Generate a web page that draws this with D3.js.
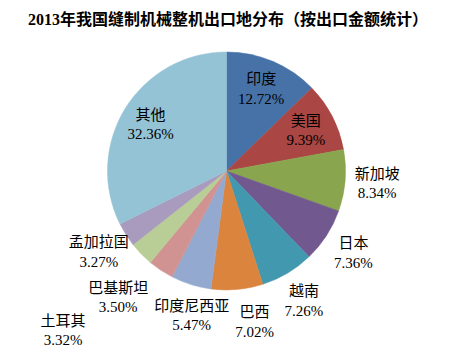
<!DOCTYPE html>
<html>
<head>
<meta charset="utf-8">
<script src="https://cdn.jsdelivr.net/npm/d3@7/dist/d3.min.js"></script>
<style>
  html, body { margin: 0; padding: 0; background: #fff; }
  svg { display: block; }
  text { font-family: "Liberation Serif", "Times New Roman", "Noto Sans CJK SC", serif; }
</style>
</head>
<body>
<svg id="chart" width="453" height="358"></svg>
<script>
const title = "2013年我国缝制机械整机出口地分布（按出口金额统计）";
const categories = ["印度", "美国", "新加坡", "日本", "越南", "巴西", "印度尼西亚", "巴基斯坦", "土耳其", "孟加拉国", "其他"];
const values = [12.72, 9.39, 8.34, 7.36, 7.26, 7.02, 5.47, 3.50, 3.32, 3.27, 32.36];
const colors = ["#4672A8", "#AA4643", "#89A54E", "#71588F", "#4198AF", "#DB843D", "#93A9CF", "#D19392", "#B9CD96", "#A99BBD", "#93C3D5"];

const W = 453, H = 358;
const cx0 = 226.5, cy0 = 171, R = 119;

const svg = d3.select("#chart");
svg.append("rect").attr("width", W).attr("height", H).attr("fill", "#fff");

svg.append("text")
  .attr("x", 228).attr("y", 25)
  .attr("text-anchor", "middle")
  .attr("font-size", 16).attr("font-weight", "bold")
  .attr("fill", "#000")
  .text(title);

const data = categories.map((c, i) => ({ name: c, value: values[i], color: colors[i] }));
const total = d3.sum(values);
const pie = d3.pie().sort(null).value(d => d.value);
const arcs = pie(data);
const arc = d3.arc().innerRadius(0).outerRadius(R);

const g = svg.append("g").attr("transform", `translate(${cx0},${cy0})`);
g.selectAll("path").data(arcs).join("path")
  .attr("d", arc)
  .attr("fill", d => d.data.color)
  .attr("stroke", d => d.data.color)
  .attr("stroke-width", 0.5);

// labels
const lg = svg.append("g");
const labels = arcs.map(a => {
  const mid = (a.startAngle + a.endAngle) / 2;
  const inside = a.data.value / total > 0.09;
  const r = inside ? R * 0.75 : R * 1.27;
  const t = lg.append("text").attr("text-anchor", "middle").attr("font-size", 15).attr("fill", "#000");
  const t1 = t.append("tspan").text(a.data.name);
  const t2 = t.append("tspan").text(a.data.value.toFixed(2) + "%");
  const w = Math.max(t1.node().getComputedTextLength(), t2.node().getComputedTextLength());
  return { a, mid, inside, r, x: cx0 + r * Math.sin(mid), y: cy0 - r * Math.cos(mid), w, h: 40, t, t1, t2 };
});

function overlap(p, q) {
  return Math.abs(p.x - q.x) < (p.w + q.w) / 2 + 2 && Math.abs(p.y - q.y) < (p.h + q.h) / 2;
}

// bottom quadrant: spread horizontally
const deg = x => x * 180 / Math.PI;
const bottom = labels.filter(l => !l.inside && deg(l.mid) >= 135 && deg(l.mid) < 225).sort((p, q) => p.x - q.x);
const pad = 6;
for (let it = 0; it < 200; it++) {
  for (let i = 0; i < bottom.length - 1; i++) {
    const p = bottom[i], q = bottom[i + 1];
    const need = (p.w + q.w) / 2 + pad;
    const d = q.x - p.x;
    if (d < need) { const s = (need - d) / 2; p.x -= s; q.x += s; }
  }
}
const placed = labels.filter(l => l.inside).concat(bottom);
labels.forEach(l => {
  if (placed.includes(l)) return;
  let r = l.r;
  while (placed.some(p => overlap(l, p)) && r < R * 2.2) {
    r += 1;
    l.x = cx0 + r * Math.sin(l.mid);
    l.y = cy0 - r * Math.cos(l.mid);
  }
  placed.push(l);
});

labels.forEach(l => {
  l.t1.attr("x", l.x).attr("y", l.y - 4.5);
  l.t2.attr("x", l.x).attr("y", l.y + 15);
});
</script>
</body>
</html>
